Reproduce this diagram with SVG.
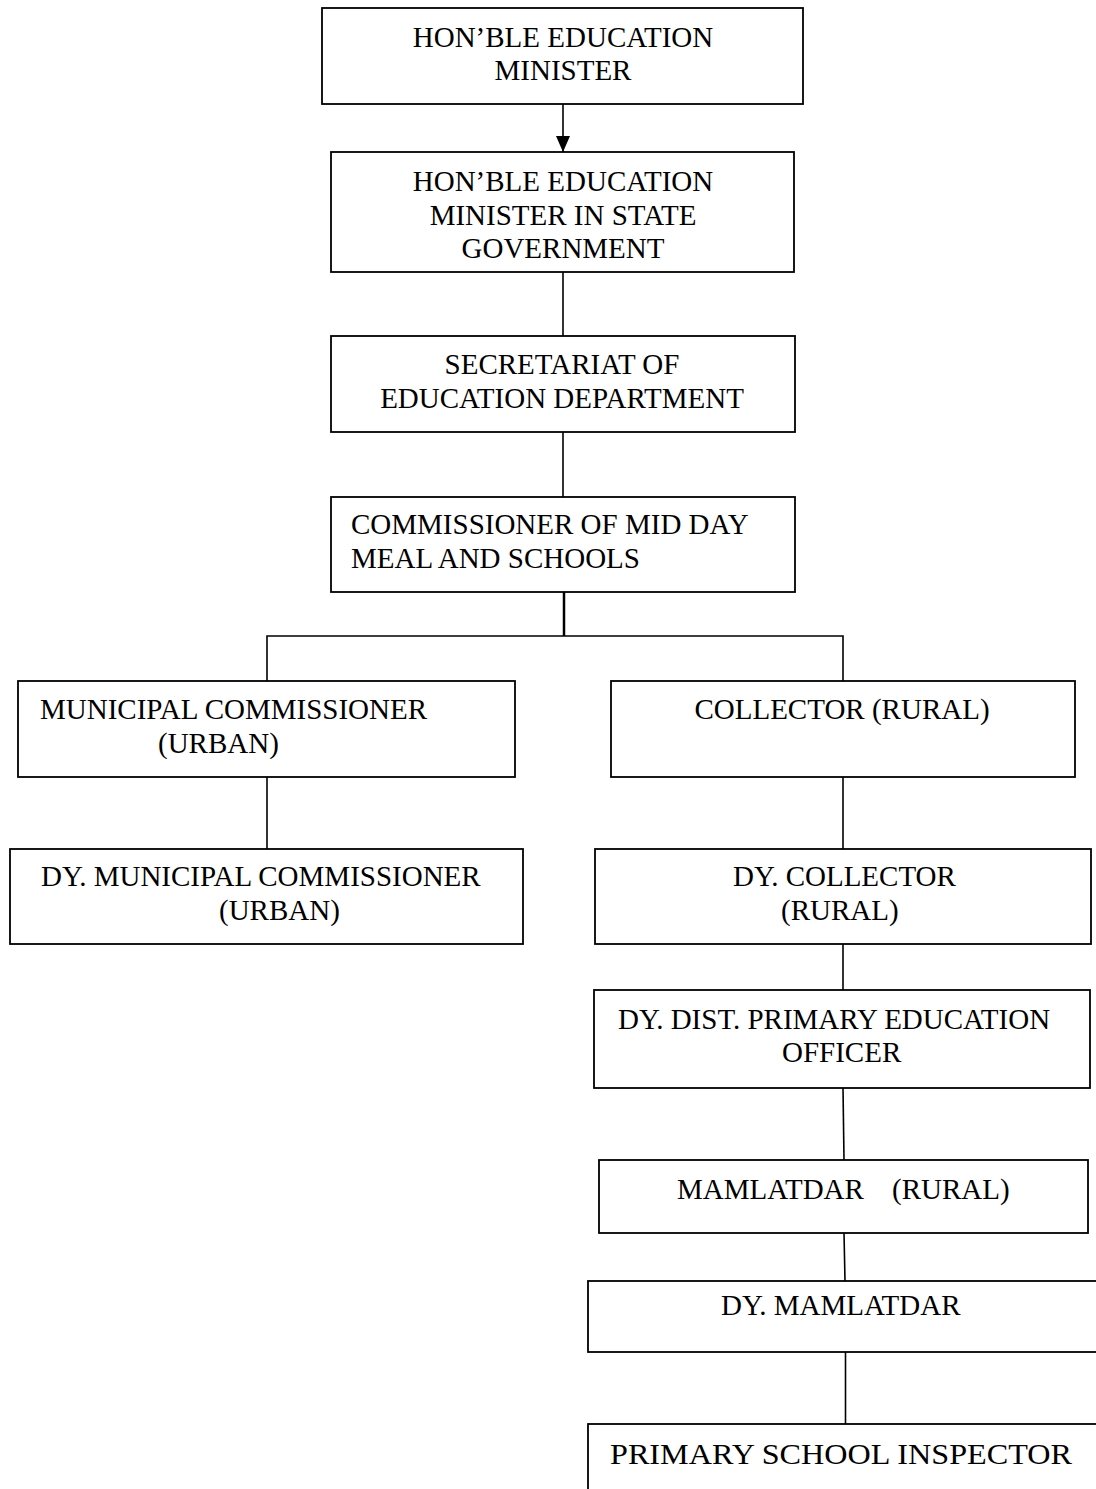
<svg xmlns="http://www.w3.org/2000/svg" width="1096" height="1489" viewBox="0 0 1096 1489">
<style>
.box{fill:#fff;stroke:#000;stroke-width:1.8}
.t{font-family:"Liberation Serif","Times New Roman",serif;font-size:29px;fill:#000}
.c{text-anchor:middle}
.ln{stroke:#000;stroke-width:1.6;fill:none}
</style>
<defs>
<marker id="arr" markerWidth="16" markerHeight="14" refX="16" refY="7" orient="auto" markerUnits="userSpaceOnUse" viewBox="0 0 16 14">
<path d="M0,0 L16,7 L0,14 z" fill="#000"/>
</marker>
</defs>
<rect width="1096" height="1489" fill="#fff"/>
<g id="connectors">
<line class="ln" x1="563" y1="104" x2="563" y2="152" marker-end="url(#arr)"/>
<line class="ln" x1="563" y1="272" x2="563" y2="336"/>
<line class="ln" x1="563" y1="432" x2="563" y2="497"/>
<line class="ln" x1="564" y1="592" x2="564" y2="636" style="stroke-width:2.5"/>
<polyline class="ln" points="267,681 267,636 843,636 843,681"/>
<line class="ln" x1="267" y1="777" x2="267" y2="849"/>
<line class="ln" x1="843" y1="777" x2="843" y2="849"/>
<line class="ln" x1="843" y1="944" x2="843" y2="990"/>
<line class="ln" x1="843" y1="1088" x2="844" y2="1160"/>
<line class="ln" x1="844" y1="1233" x2="845" y2="1281"/>
<line class="ln" x1="845.5" y1="1352" x2="845.5" y2="1424"/>
</g>
<g id="n1">
<rect class="box" x="322" y="8" width="481" height="96"/>
<text class="t c" x="563" y="47">HON’BLE EDUCATION</text>
<text class="t c" x="563" y="80">MINISTER</text>
</g>
<g id="n2">
<rect class="box" x="331" y="152" width="463" height="120"/>
<text class="t c" x="563" y="191">HON’BLE EDUCATION</text>
<text class="t c" x="563" y="225">MINISTER IN STATE</text>
<text class="t c" x="563" y="258">GOVERNMENT</text>
</g>
<g id="n3">
<rect class="box" x="331" y="336" width="464" height="96"/>
<text class="t c" x="562" y="374">SECRETARIAT OF</text>
<text class="t c" x="562" y="408">EDUCATION DEPARTMENT</text>
</g>
<g id="n4">
<rect class="box" x="331" y="497" width="464" height="95"/>
<text class="t" x="351" y="534">COMMISSIONER OF MID DAY</text>
<text class="t" x="351" y="568">MEAL AND SCHOOLS</text>
</g>
<g id="n5">
<rect class="box" x="18" y="681" width="497" height="96"/>
<text class="t" x="40" y="719">MUNICIPAL COMMISSIONER</text>
<text class="t" x="158" y="753">(URBAN)</text>
</g>
<g id="n6">
<rect class="box" x="611" y="681" width="464" height="96"/>
<text class="t c" x="842" y="719">COLLECTOR (RURAL)</text>
</g>
<g id="n7">
<rect class="box" x="10" y="849" width="513" height="95"/>
<text class="t" x="41" y="886">DY. MUNICIPAL COMMISSIONER</text>
<text class="t" x="219" y="920">(URBAN)</text>
</g>
<g id="n8">
<rect class="box" x="595" y="849" width="496" height="95"/>
<text class="t" x="733" y="886">DY. COLLECTOR</text>
<text class="t" x="781" y="920">(RURAL)</text>
</g>
<g id="n9">
<rect class="box" x="594" y="990" width="496" height="98"/>
<text class="t" x="618" y="1029">DY. DIST. PRIMARY EDUCATION</text>
<text class="t" x="782" y="1062">OFFICER</text>
</g>
<g id="n10">
<rect class="box" x="599" y="1160" width="489" height="73"/>
<text class="t" x="677" y="1199"><tspan>MAMLATDAR</tspan><tspan x="892">(RURAL)</tspan></text>
</g>
<g id="n11">
<rect class="box" x="588" y="1281" width="520" height="71"/>
<text class="t" x="721" y="1315">DY. MAMLATDAR</text>
</g>
<g id="n12">
<rect class="box" x="588" y="1424" width="520" height="100"/>
<text class="t" x="610" y="1464" textLength="462" lengthAdjust="spacingAndGlyphs">PRIMARY SCHOOL INSPECTOR</text>
</g>
</svg>
